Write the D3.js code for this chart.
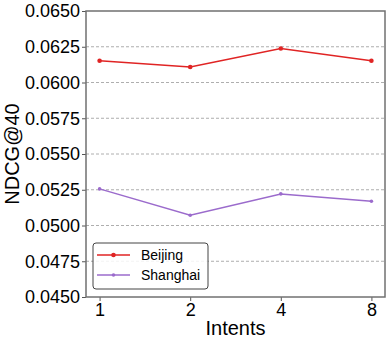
<!DOCTYPE html>
<html>
<head>
<meta charset="utf-8">
<script src="https://cdn.jsdelivr.net/npm/d3@7"></script>
<style>
  body { margin: 0; background: #fff; }
  text { font-family: "Liberation Sans", Arial, sans-serif; }
</style>
</head>
<body>
<div class="chart"></div>
<script>
var intents = ["1", "2", "4", "8"];
var beijing = [0.06152, 0.06108, 0.06238, 0.06152];
var shanghai = [0.05256, 0.05072, 0.05221, 0.05170];
var yTicks = [0.0450, 0.0475, 0.0500, 0.0525, 0.0550, 0.0575, 0.0600, 0.0625, 0.0650];
var seriesNames = ["Beijing", "Shanghai"];
var seriesColors = ["#e02424", "#9b6bcc"];

var svgWidth = 391;
var svgHeight = 344;
var margin = { top: 11, right: 6, bottom: 47, left: 86 };
var width = svgWidth - margin.left - margin.right;
var height = svgHeight - margin.top - margin.bottom;

var svg = d3.select(".chart")
  .append("svg")
  .attr("width", svgWidth)
  .attr("height", svgHeight);

var chartGroup = svg.append("g")
  .attr("transform", `translate(${margin.left}, ${margin.top})`);

var xScale = d3.scalePoint()
  .domain(intents)
  .range([0, width])
  .padding(0.15);

var yScale = d3.scaleLinear()
  .domain([0.0450, 0.0650])
  .range([height, 0]);

// grid lines
chartGroup.append("g")
  .selectAll("line")
  .data(yTicks.slice(1, -1))
  .enter()
  .append("line")
  .attr("x1", 0)
  .attr("x2", width)
  .attr("y1", d => yScale(d))
  .attr("y2", d => yScale(d))
  .attr("stroke", "#999")
  .attr("stroke-width", 0.8)
  .attr("stroke-dasharray", "3,2");

// axes
var bottomAxis = d3.axisBottom(xScale).tickSizeOuter(0).tickSize(4).tickPadding(2);
var leftAxis = d3.axisLeft(yScale).tickValues(yTicks).tickFormat(d3.format(".4f")).tickSizeOuter(0).tickSize(4).tickPadding(2);

var xAxisG = chartGroup.append("g")
  .attr("transform", `translate(0, ${height})`)
  .call(bottomAxis);
var yAxisG = chartGroup.append("g").call(leftAxis);

[xAxisG, yAxisG].forEach(g => {
  g.select(".domain").remove();
  g.selectAll(".tick line").attr("stroke", "#555").attr("stroke-width", 1);
  g.selectAll(".tick text").attr("fill", "#000").style("font-size", "18px");
});

// spines
chartGroup.append("rect")
  .attr("x", 0)
  .attr("y", 0)
  .attr("width", width)
  .attr("height", height)
  .attr("fill", "none")
  .attr("stroke", "#707070")
  .attr("stroke-width", 1.5);

// lines
var line = d3.line()
  .x((d, i) => xScale(intents[i]))
  .y(d => yScale(d));

[beijing, shanghai].forEach((vals, k) => {
  chartGroup.append("path")
    .datum(vals)
    .attr("d", line)
    .attr("fill", "none")
    .attr("stroke", seriesColors[k])
    .attr("stroke-width", 1.5);

  chartGroup.selectAll(".pt" + k)
    .data(vals)
    .enter()
    .append("circle")
    .attr("cx", (d, i) => xScale(intents[i]))
    .attr("cy", d => yScale(d))
    .attr("r", k == 0 ? 2.3 : 1.8)
    .attr("fill", seriesColors[k]);
});

// legend
var legend = chartGroup.append("g")
  .attr("transform", "translate(7, 232)");

legend.append("rect")
  .attr("width", 115)
  .attr("height", 46)
  .attr("rx", 3)
  .attr("fill", "#fff")
  .attr("fill-opacity", 0.85)
  .attr("stroke", "#444")
  .attr("stroke-width", 1);

seriesNames.forEach((name, k) => {
  var yy = 12 + k * 20;
  legend.append("line")
    .attr("x1", 4).attr("x2", 37)
    .attr("y1", yy).attr("y2", yy)
    .attr("stroke", seriesColors[k])
    .attr("stroke-width", 1.5);
  legend.append("circle")
    .attr("cx", 20.5).attr("cy", yy)
    .attr("r", k == 0 ? 2.3 : 1.8)
    .attr("fill", seriesColors[k]);
  legend.append("text")
    .attr("x", 48)
    .attr("y", yy + 5)
    .style("font-size", "14px")
    .text(name);
});

// axis labels
svg.append("text")
  .attr("transform", `translate(${margin.left + width / 2}, ${svgHeight - 9})`)
  .attr("text-anchor", "middle")
  .style("font-size", "20px")
  .text("Intents");

svg.append("text")
  .attr("transform", `translate(19, ${margin.top + height / 2}) rotate(-90)`)
  .attr("text-anchor", "middle")
  .style("font-size", "20px")
  .text("NDCG@40");
</script>
</body>
</html>
